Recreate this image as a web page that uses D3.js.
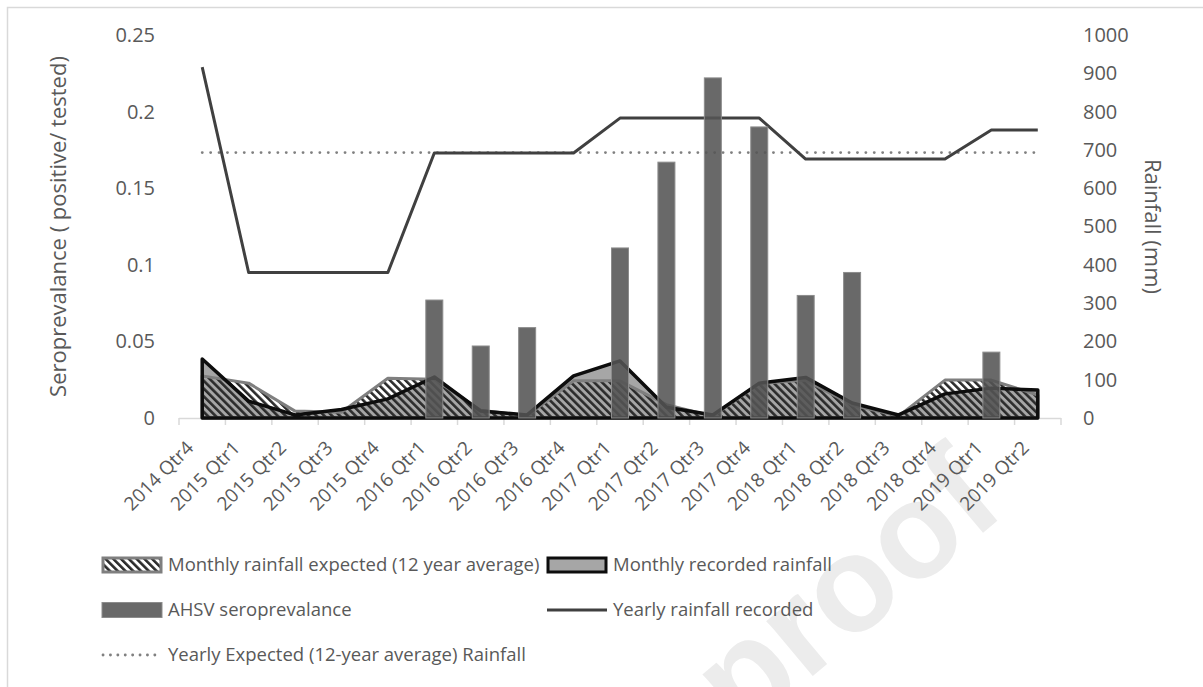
<!DOCTYPE html>
<html>
<head>
<meta charset="utf-8">
<script src="https://cdn.jsdelivr.net/npm/d3@7"></script>
<style>
  body { margin: 0; background: #fff; }
  text { font-family: 'Open Sans', sans-serif; fill: #595959; }
</style>
</head>
<body>
<script>
const categories = ['2014 Qtr4', '2015 Qtr1', '2015 Qtr2', '2015 Qtr3', '2015 Qtr4',
    '2016 Qtr1', '2016 Qtr2', '2016 Qtr3', '2016 Qtr4', '2017 Qtr1', '2017 Qtr2',
    '2017 Qtr3', '2017 Qtr4', '2018 Qtr1', '2018 Qtr2', '2018 Qtr3', '2018 Qtr4',
    '2019 Qtr1', '2019 Qtr2'];
const seroprevalence = [0, 0, 0, 0, 0, 0.077, 0.047, 0.059, 0, 0.111, 0.167,
    0.222, 0.19, 0.08, 0.095, 0, 0, 0.043, 0];
const monthlyExpected = [110, 91, 18, 15, 104, 101, 20, 6, 97, 97, 35, 5, 90, 99,
    34, 5, 99, 99, 60];
const monthlyRecorded = [154, 44, 8, 22, 50, 107, 18, 8, 110, 149, 28, 8, 91, 106,
    39, 8, 63, 78, 73];
const yearlyRecorded = [916, 380, 380, 380, 380, 692, 692, 692, 692, 783, 783, 783,
    783, 676, 676, 676, 676, 752, 752];
const yearlyExpected = [693, 693, 693, 693, 693, 693, 693, 693, 693, 693, 693, 693,
    693, 693, 693, 693, 693, 693, 693];
const leftTicks = [0, 0.05, 0.1, 0.15, 0.2, 0.25];
const rightTicks = [0, 100, 200, 300, 400, 500, 600, 700, 800, 900, 1000];
const legendLabels = ['Monthly rainfall expected (12 year average)', 'Monthly recorded rainfall',
    'AHSV seroprevalance', 'Yearly rainfall recorded',
    'Yearly Expected (12-year average) Rainfall'];

const width = 1203;
const height = 687;
const plotLeft = 179;
const plotRight = 1061;
const plotTop = 35;
const plotBottom = 418;

const svg = d3.select('body')
    .append('svg')
    .attr('width', width)
    .attr('height', height);

// outer chart border (cropped on the right and bottom)
svg.append('rect')
    .attr('x', 7.5)
    .attr('y', 7.5)
    .attr('width', 1300)
    .attr('height', 800)
    .attr('fill', 'none')
    .attr('stroke', '#d9d9d9')
    .attr('stroke-width', 1.5);

// faint proof watermark
svg.append('text')
    .attr('transform', 'translate(1008,512) rotate(-40)')
    .attr('text-anchor', 'end')
    .style('font-family', 'Liberation Sans, sans-serif')
    .style('font-weight', 'bold')
    .style('font-size', '136px')
    .style('fill', '#ececec')
    .text('Journal Pre-proof');

const defs = svg.append('defs');
const hatch = defs.append('pattern')
    .attr('id', 'hatch')
    .attr('patternUnits', 'userSpaceOnUse')
    .attr('width', 5.5)
    .attr('height', 5.5)
    .attr('patternTransform', 'rotate(-45)');
hatch.append('rect')
    .attr('width', 2.6)
    .attr('height', 5.5)
    .attr('fill', '#2b2b2b');

const x = d3.scalePoint()
    .domain(categories)
    .range([plotLeft, plotRight])
    .padding(0.5);

const xBand = d3.scaleBand()
    .domain(categories)
    .range([plotLeft, plotRight])
    .paddingInner(0.634)
    .paddingOuter(0.317);

const yLeft = d3.scaleLinear()
    .domain([0, 0.25])
    .range([plotBottom, plotTop]);

const yRight = d3.scaleLinear()
    .domain([0, 1000])
    .range([plotBottom, plotTop]);

// x axis line + boundary ticks
svg.append('line')
    .attr('x1', plotLeft)
    .attr('x2', plotRight)
    .attr('y1', plotBottom + 0.5)
    .attr('y2', plotBottom + 0.5)
    .attr('stroke', '#d9d9d9')
    .attr('stroke-width', 1.5);

const bounds = categories.map((c) => x(c) - x.step() / 2).concat([plotRight]);
svg.selectAll()
    .data(bounds)
    .enter()
    .append('line')
    .attr('x1', (d) => d)
    .attr('x2', (d) => d)
    .attr('y1', plotBottom)
    .attr('y2', plotBottom + 7)
    .attr('stroke', '#d9d9d9')
    .attr('stroke-width', 1.5);

const xAxis = svg.append('g')
    .attr('transform', `translate(0,${plotBottom})`)
    .call(d3.axisBottom(x).tickSize(0));
xAxis.select('.domain').remove();
xAxis.selectAll('text')
    .attr('x', 0)
    .attr('y', 0)
    .attr('dy', 0)
    .attr('transform', 'translate(-8,31) rotate(-45)')
    .style('text-anchor', 'end')
    .style('font-size', '19px')
    .style('font-family', 'Open Sans');

const leftAxis = svg.append('g')
    .attr('transform', `translate(${plotLeft},0)`)
    .call(d3.axisLeft(yLeft).tickValues(leftTicks).tickSize(0).tickPadding(24)
        .tickFormat(d3.format('~g')));
leftAxis.select('.domain').remove();
leftAxis.selectAll('text')
    .style('font-size', '20px')
    .style('font-family', 'Open Sans');

const rightAxis = svg.append('g')
    .attr('transform', `translate(${plotRight},0)`)
    .call(d3.axisRight(yRight).tickValues(rightTicks).tickSize(0).tickPadding(22)
        .tickFormat(d3.format('d')));
rightAxis.select('.domain').remove();
rightAxis.selectAll('text')
    .style('font-size', '20px')
    .style('font-family', 'Open Sans');

// monthly rainfall areas
const area = d3.area()
    .x((d, i) => x(categories[i]))
    .y0(yRight(0))
    .y1((d) => yRight(d));

svg.append('path')
    .attr('d', area(monthlyRecorded))
    .attr('fill', '#a6a6a6');

svg.append('path')
    .attr('d', area(monthlyExpected))
    .attr('fill', 'url(#hatch)')
    .attr('stroke', '#7f7f7f')
    .attr('stroke-width', 3)
    .attr('stroke-linejoin', 'round');

svg.append('path')
    .attr('d', area(monthlyRecorded))
    .attr('fill', 'none')
    .attr('stroke', '#0d0d0d')
    .attr('stroke-width', 3.5)
    .attr('stroke-linejoin', 'round');

// yearly lines
const line = d3.line()
    .x((d, i) => x(categories[i]))
    .y((d) => yRight(d));

svg.append('path')
    .attr('d', line(yearlyExpected))
    .attr('fill', 'none')
    .attr('stroke', '#808080')
    .attr('stroke-width', 2.8)
    .attr('stroke-linecap', 'round')
    .attr('stroke-dasharray', '0.1 8.3');

svg.append('path')
    .attr('d', line(yearlyRecorded))
    .attr('fill', 'none')
    .attr('stroke', '#404040')
    .attr('stroke-width', 3)
    .attr('stroke-linejoin', 'round');

// seroprevalence bars
const barData = categories.map((c, i) => ({ cat: c, value: seroprevalence[i] }))
    .filter((d) => d.value > 0);

svg.selectAll()
    .data(barData)
    .enter()
    .append('rect')
    .attr('x', (d) => xBand(d.cat))
    .attr('y', (d) => yLeft(d.value))
    .attr('width', xBand.bandwidth())
    .attr('height', (d) => yLeft(0) - yLeft(d.value))
    .attr('fill', '#545454')
    .attr('fill-opacity', 0.88)
    .attr('stroke', '#8c8c8c')
    .attr('stroke-width', 1);

// axis titles
svg.append('text')
    .attr('transform', `translate(58,${(plotTop + plotBottom) / 2}) rotate(-90)`)
    .attr('dy', '0.35em')
    .style('text-anchor', 'middle')
    .style('font-size', '22px')
    .text('Seroprevalance ( positive/ tested)');

svg.append('text')
    .attr('transform', `translate(1153,${(plotTop + plotBottom) / 2}) rotate(90)`)
    .attr('dy', '0.35em')
    .style('text-anchor', 'middle')
    .style('font-size', '22px')
    .text('Rainfall (mm)');

// legend
const legend = svg.append('g');
legendLabels.forEach((label, i) => {
    const lx = i % 2 === 0 ? 102 : 547;
    const ly = 565 + Math.floor(i / 2) * 45;
    const g = legend.append('g').attr('transform', `translate(${lx},${ly})`);
    if (i === 0) {
        g.append('rect').attr('x', 1).attr('y', -7).attr('width', 58).attr('height', 14)
            .attr('fill', 'url(#hatch)').attr('stroke', '#7f7f7f').attr('stroke-width', 3);
    } else if (i === 1) {
        g.append('rect').attr('x', 1).attr('y', -7).attr('width', 58).attr('height', 14)
            .attr('fill', '#a6a6a6').attr('stroke', '#0d0d0d').attr('stroke-width', 3);
    } else if (i === 2) {
        g.append('rect').attr('x', 0).attr('y', -7.5).attr('width', 60).attr('height', 15)
            .attr('fill', '#545454').attr('fill-opacity', 0.88)
            .attr('stroke', '#8c8c8c').attr('stroke-width', 1);
    } else if (i === 3) {
        g.append('line').attr('x1', 0).attr('x2', 60).attr('y1', 0).attr('y2', 0)
            .attr('stroke', '#404040').attr('stroke-width', 3);
    } else {
        g.append('line').attr('x1', 1).attr('x2', 60).attr('y1', 0).attr('y2', 0)
            .attr('stroke', '#808080').attr('stroke-width', 2.8)
            .attr('stroke-linecap', 'round').attr('stroke-dasharray', '0.1 7.3');
    }
    g.append('text')
        .attr('x', 66)
        .attr('dy', '0.35em')
        .style('font-size', '18.5px')
        .text(label);
});
</script>
</body>
</html>
